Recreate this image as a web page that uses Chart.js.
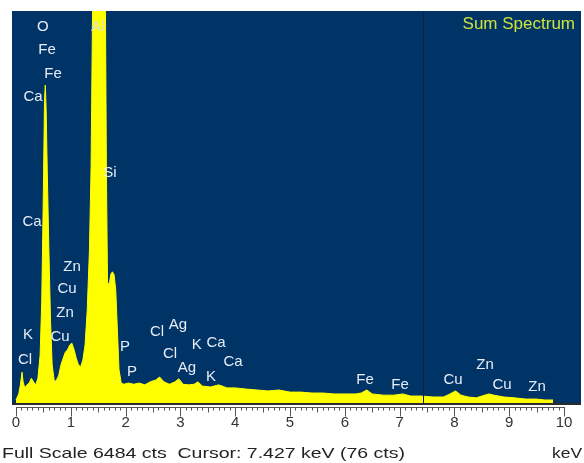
<!DOCTYPE html>
<html>
<head>
<meta charset="utf-8">
<script src="https://cdn.jsdelivr.net/npm/chart.js@4.4.1/dist/chart.umd.min.js"></script>
<style>
html,body{margin:0;padding:0;background:#fff;}
#wrap{width:584px;height:463px;position:relative;}
</style>
</head>
<body>
<div id="wrap"><canvas id="c" width="584" height="463"></canvas></div>
<script>
// Spectrum: energy (keV) and counts
const energies = [0.00,0.05,0.08,0.11,0.13,0.16,0.20,0.24,0.28,0.32,0.36,0.40,0.44,0.47,0.50,0.52,0.535,0.55,0.57,0.60,0.63,0.66,0.70,0.74,0.78,0.82,0.86,0.90,0.94,0.98,1.02,1.06,1.10,1.14,1.18,1.22,1.26,1.30,1.34,1.37,1.40,1.43,1.46,1.49,1.52,1.56,1.60,1.63,1.65,1.67,1.70,1.73,1.76,1.79,1.82,1.85,1.88,1.92,1.97,2.05,2.15,2.25,2.35,2.45,2.55,2.62,2.70,2.80,2.90,2.97,3.05,3.15,3.25,3.32,3.40,3.55,3.70,3.85,4.00,4.20,4.40,4.60,4.80,5.00,5.20,5.40,5.60,5.80,6.00,6.20,6.30,6.40,6.50,6.70,6.90,7.06,7.20,7.40,7.60,7.80,7.92,8.02,8.12,8.25,8.40,8.55,8.63,8.72,8.90,9.10,9.30,9.50,9.65,9.80];
const counts   = [50,150,300,510,350,250,300,330,410,350,300,410,790,1700,3520,5010,5260,4850,3850,2530,1370,630,350,380,460,630,740,840,880,960,990,880,740,630,600,710,960,1540,2530,3900,6800,8500,9500,9800,9600,9000,8200,6900,3800,2000,1950,2130,2170,2120,1870,1210,550,330,310,330,310,330,300,350,380,430,350,310,350,400,310,300,310,350,280,265,300,250,250,230,215,200,215,180,180,165,165,150,150,150,165,215,150,130,130,150,115,115,100,100,150,200,130,100,85,130,150,130,100,85,65,65,50,50];

// Element labels (text, energy keV, counts)
const labelText   = ['O','Fe','Fe','Ca','Al','Si','Ca','Zn','Cu','Zn','K','Cu','Cl','P','P','Cl','Ag','K','Ca','Cl','Ag','K','Ca','Fe','Fe','Cu','Zn','Cu','Zn'];
const labelKeV    = [0.49,0.566,0.675,0.31,1.49,1.715,0.292,1.022,0.931,0.894,0.219,0.803,0.164,1.989,2.117,2.573,2.956,3.30,3.65,2.81,3.12,3.56,3.96,6.369,7.007,7.974,8.558,8.869,9.507];
const labelCounts = [6219,5839,5442,5061,6219,3804,2994,2249,1886,1489,1125,1092,711,926,513,1174,1290,960,992,810,579,430,680,380,298,380,629,298,265];

const tickLabels = ['0','1','2','3','4','5','6','7','8','9','10'];
const fullScale = 6484;
const cursorKeV = 7.427;
const titleText = 'Sum Spectrum';
const footerText = 'Full Scale 6484 cts  Cursor: 7.427 keV (76 cts)';
const unitText = 'keV';

const points = energies.map((e,i)=>({x:e,y:counts[i]}));

const FONT = '"Liberation Sans", Arial, sans-serif';

const decor = {
  id:'decor',
  beforeDraw(chart){
    const {ctx, chartArea:a} = chart;
    ctx.save();
    ctx.fillStyle='#ffffff';
    ctx.fillRect(0,0,chart.width,chart.height);
    ctx.fillStyle='#003366';
    ctx.fillRect(a.left,a.top,a.right-a.left,a.bottom-a.top);
    ctx.restore();
  },
  afterDatasetsDraw(chart){
    const {ctx, chartArea:a, scales:{x,y}} = chart;
    ctx.save();
    // cursor line
    const cx = Math.round(x.getPixelForValue(cursorKeV))+0.5;
    ctx.strokeStyle='#0c2444';
    ctx.lineWidth=1;
    ctx.beginPath(); ctx.moveTo(cx,a.top); ctx.lineTo(cx,a.bottom); ctx.stroke();
    // bottom dark line
    ctx.strokeStyle='#2b2b2b';
    ctx.lineWidth=2;
    ctx.beginPath(); ctx.moveTo(a.left,a.bottom+1); ctx.lineTo(a.right,a.bottom+1); ctx.stroke();
    // element labels
    ctx.font='15px '+FONT;
    ctx.textAlign='center';
    ctx.textBaseline='middle';
    labelText.forEach((t,i)=>{
      ctx.fillStyle = t==='Al' ? '#d8dce8' : '#e6edf7';
      ctx.fillText(t, x.getPixelForValue(labelKeV[i]), y.getPixelForValue(labelCounts[i]));
    });
    // title
    ctx.font='17px '+FONT;
    ctx.textAlign='right';
    ctx.fillStyle='#cde23c';
    ctx.fillText(titleText, a.right-6, a.top+13);
    // ruler
    const ry = a.bottom+4.5;
    ctx.strokeStyle='#555';
    ctx.lineWidth=1;
    ctx.beginPath();
    ctx.moveTo(x.getPixelForValue(0), ry); ctx.lineTo(x.getPixelForValue(10)+1, ry);
    for(let i=0;i<=100;i++){
      const px = Math.round(x.getPixelForValue(i/10))+0.5;
      const len = (i%10===0)?9:((i%5===0)?5:3);
      ctx.moveTo(px,ry); ctx.lineTo(px,ry+len);
    }
    ctx.stroke();
    ctx.font='15px '+FONT;
    ctx.fillStyle='#333';
    ctx.textAlign='center';
    ctx.textBaseline='middle';
    tickLabels.forEach((t,i)=>{
      ctx.fillText(t, x.getPixelForValue(i), a.bottom+20);
    });
    // footer
    ctx.font='15px '+FONT;
    ctx.textAlign='left';
    ctx.textBaseline='alphabetic';
    ctx.fillStyle='#222';
    const w = ctx.measureText(footerText).width;
    ctx.save();
    ctx.translate(2, 458);
    ctx.scale(403/w,1);
    ctx.fillText(footerText,0,0);
    ctx.restore();
    ctx.textAlign='right';
    ctx.save();
    const uw = ctx.measureText(unitText).width;
    ctx.translate(582,458);
    ctx.scale(30/uw,1);
    ctx.fillText(unitText,0,0);
    ctx.restore();
    ctx.restore();
  }
};

new Chart(document.getElementById('c'),{
  type:'line',
  data:{datasets:[{
    data:points,
    fill:'origin',
    backgroundColor:'#ffff00',
    borderColor:'#ffff00',
    borderWidth:1,
    pointRadius:0,
    tension:0
  }]},
  options:{
    responsive:false,
    animation:false,
    events:[],
    layout:{padding:{left:12,top:11,right:3,bottom:60}},
    plugins:{legend:{display:false},tooltip:{enabled:false},title:{display:false}},
    scales:{
      x:{type:'linear',min:-0.073,max:10.31,display:false},
      y:{min:0,max:fullScale,display:false}
    }
  },
  plugins:[decor]
});
</script>
</body>
</html>
